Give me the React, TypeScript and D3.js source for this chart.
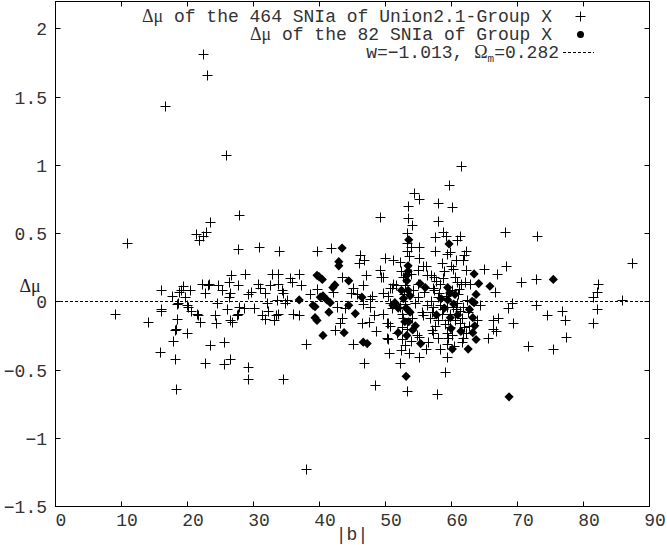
import React, { useEffect, useRef } from 'react';
import * as d3 from 'd3';

// |b| (deg) vs residual
const xTicks = [0, 10, 20, 30, 40, 50, 60, 70, 80, 90];
const yTicks = [-1.5, -1, -0.5, 0, 0.5, 1, 1.5, 2];

const unionPts: [number, number][] = [
  [22.4, 1.81], [23.0, 1.66], [16.7, 1.43], [25.9, 1.07], [10.9, 0.43], [9.1, -0.09], [14.1, -0.15], [38.0, -1.23],
  [61.5, 0.99], [59.7, 0.85], [54.4, 0.79], [55.2, 0.75], [58.0, 0.72], [60.2, 0.69], [58.0, 0.59], [53.5, 0.61],
  [54.1, 0.56], [49.2, 0.62], [68.2, 0.51], [73.0, 0.48], [27.9, 0.63], [23.5, 0.58], [22.9, 0.51], [21.3, 0.49],
  [21.8, 0.45], [22.4, 0.48], [27.7, 0.38], [30.9, 0.40], [33.9, 0.37], [39.7, 0.37], [41.8, 0.39],
  [46.2, 0.34], [46.1, 0.28], [46.8, 0.30], [50.0, 0.32], [51.2, 0.30], [52.3, 0.29],
  [49.2, 0.23], [49.4, 0.18], [47.1, 0.19], [43.5, 0.18], [35.6, 0.17], [35.9, 0.14], [37.3, 0.12], [32.9, 0.20],
  [33.8, 0.20], [28.8, 0.20], [26.7, 0.19], [22.3, 0.13], [23.3, 0.13], [24.7, 0.12], [26.4, 0.14], [27.7, 0.12],
  [30.8, 0.13], [31.1, 0.10], [32.6, 0.12], [33.8, 0.13], [34.4, 0.08], [34.5, 0.06],
  [16.1, 0.08], [17.7, 0.04], [18.8, 0.07], [19.1, 0.08], [20.5, 0.08], [19.7, 0.03], [22.7, 0.06], [23.2, 0.12],
  [26.4, 0.03], [26.5, 0.06], [29.2, 0.05], [29.7, 0.07], [31.8, 0.06], [32.1, -0.01], [33.6, 0.01], [35.1, 0.01],
  [34.8, -0.01], [24.5, -0.01], [20.0, -0.03], [20.2, -0.04], [16.1, -0.06], [18.6, -0.01], [20.6, -0.07],
  [26.1, -0.06], [27.9, -0.04], [28.6, -0.05], [27.7, -0.09], [27.6, -0.10], [21.7, -0.10], [22.0, -0.15],
  [24.2, -0.10], [24.4, -0.16], [26.5, -0.14], [26.8, -0.15], [18.5, -0.13], [18.3, -0.20], [18.2, -0.21],
  [20.0, -0.23], [17.9, -0.29], [23.5, -0.32], [25.6, -0.30], [31.4, -0.10], [31.8, -0.13], [32.3, -0.07],
  [33.2, -0.14], [33.5, -0.10], [33.8, -0.09], [36.1, -0.09], [37.0, -0.10], [38.0, -0.31],
  [39.7, 0.09], [42.4, -0.21], [42.7, -0.04], [42.1, 0.07], [43.5, -0.12], [43.2, -0.16], [45.2, -0.31],
  [44.8, 0.06], [45.8, 0.05], [47.7, 0.02], [48.0, 0.04], [46.7, 0.12], [46.7, -0.02], [47.7, -0.04],
  [46.5, -0.16], [47.6, -0.15], [48.3, -0.10], [49.7, -0.09], [50.3, -0.16], [50.8, -0.18], [50.5, 0.04],
  [51.0, 0.10], [51.7, 0.12], [50.3, -0.27], [50.5, -0.28], [51.8, -0.23],
  [22.7, -0.45], [25.6, -0.46], [26.5, -0.42], [29.2, -0.48], [29.2, -0.57], [34.5, -0.57],
  [46.8, -0.45], [50.6, -0.38], [52.4, -0.36], [48.5, -0.61], [55.2, -0.41], [56.2, -0.35], [53.3, -0.66],
  [57.9, -0.68], [59.1, -0.52], [59.4, -0.41], [15.9, -0.37], [18.2, -0.42], [18.3, -0.64], [21.5, -0.09],
  [18.5, -0.02], [16.1, -0.07],
  [58.8, 0.51], [59.2, 0.48], [57.6, 0.47], [61.4, 0.48], [60.9, 0.45], [53.3, 0.50], [53.3, 0.43], [53.9, 0.40],
  [55.2, 0.40], [53.3, 0.37], [55.2, 0.32], [57.6, 0.37], [62.3, 0.37], [62.0, 0.34], [61.8, 0.30], [59.4, 0.35],
  [55.8, 0.26], [56.2, 0.26], [60.0, 0.26], [60.3, 0.24], [65.0, 0.24], [68.3, 0.26], [67.0, 0.20], [62.3, 0.23],
  [87.4, 0.28], [55.0, 0.23], [56.9, 0.19], [57.4, 0.18], [49.7, 0.18], [55.0, 0.13], [57.3, 0.10], [57.4, 0.08],
  [61.5, 0.13], [62.9, 0.13], [66.7, 0.07], [70.6, 0.14], [72.9, 0.16], [82.3, 0.13], [82.1, 0.07], [81.5, 0.03],
  [85.9, 0.01], [69.2, -0.01], [72.9, -0.03], [68.6, -0.05], [67.1, -0.12], [66.4, -0.14], [69.4, -0.16],
  [74.5, -0.10], [76.8, -0.07], [77.3, -0.14], [82.1, -0.06], [81.5, -0.16], [77.4, -0.26], [66.4, -0.20],
  [65.6, -0.27], [71.7, -0.33], [75.5, -0.35],
  [55.0, 0.03], [54.5, -0.01], [56.4, -0.03], [57.3, -0.04], [57.1, -0.08], [58.0, 0.03], [58.3, -0.03],
  [58.8, -0.06], [59.4, -0.04], [59.8, -0.09], [60.3, -0.04], [60.9, -0.01], [61.4, -0.07], [61.7, -0.12],
  [61.8, -0.04], [62.4, 0.01], [62.6, -0.08], [60.6, -0.14], [61.4, -0.16], [59.5, -0.14], [59.8, -0.19],
  [59.4, -0.23], [60.2, -0.25], [61.7, -0.30], [61.8, -0.27], [59.4, -0.31], [58.0, -0.27], [57.3, -0.23],
  [57.1, -0.21], [58.0, -0.14], [56.8, -0.12], [55.8, -0.10], [55.6, -0.08], [55.2, -0.26], [54.8, -0.25],
  [56.4, 0.19], [58.3, 0.13], [58.8, 0.17], [60.6, 0.18], [60.9, 0.14], [62.1, 0.14], [64.4, -0.03],
  [63.9, -0.14], [66.8, -0.22], [51.2, 0.13], [50.8, 0.10], [49.7, 0.06], [50.8, -0.01], [51.1, -0.05],
  [50.5, -0.16], [52.6, -0.09], [52.3, -0.04], [54.1, -0.12],
  [52.8, 0.18], [53.0, 0.12], [52.9, 0.05], [53.1, -0.02], [52.7, -0.12], [53.4, -0.20], [52.5, -0.28],
  [53.0, -0.32], [53.6, -0.38], [52.2, -0.45], [54.0, 0.20], [54.3, 0.08], [53.7, 0.33], [53.5, 0.70],
  [58.6, 0.28], [59.0, 0.22], [60.1, 0.08], [61.1, 0.05], [61.9, -0.19], [62.2, -0.23], [59.1, -0.17],
  [58.6, -0.09], [57.6, -0.18], [56.5, -0.30], [57.0, 0.00], [55.9, 0.07], [59.9, 0.36], [60.7, 0.30],
  [59.2, 0.04], [60.8, -0.06], [58.2, 0.06], [61.2, 0.09], [59.6, -0.27], [60.4, -0.33], [58.4, -0.35],
  [62.7, -0.18], [57.8, 0.15], [52.4, 0.22], [52.6, -0.19], [53.9, -0.29], [44.0, -0.05], [45.1, 0.10],
  [48.7, -0.22], [38.6, 0.05], [36.9, 0.20], [30.2, -0.05], [25.3, 0.08], [19.4, 0.11],
];

const groupPts: [number, number][] = [
  [43.5, 0.39], [43.0, 0.29], [43.0, 0.26], [39.7, 0.19], [40.0, 0.18], [40.5, 0.16], [44.5, 0.15], [42.1, 0.10],
  [42.4, 0.12], [37.0, 0.01], [39.1, -0.03], [39.4, -0.04], [40.2, 0.03], [40.6, 0.04], [41.2, 0.01], [41.7, -0.01],
  [39.4, -0.12], [39.7, -0.14], [40.6, -0.25], [43.8, -0.23], [44.5, -0.03], [45.5, -0.09], [46.7, -0.30],
  [47.3, -0.31], [46.5, 0.03], [51.8, -0.03], [52.0, -0.05],
  [59.7, 0.42], [53.6, 0.45], [53.5, 0.26], [53.5, 0.22], [53.3, 0.19], [53.3, 0.15], [55.3, 0.13], [56.1, 0.10],
  [59.5, 0.10], [59.8, 0.06], [59.5, 0.01], [63.5, 0.20], [64.2, 0.13], [65.9, 0.11], [63.8, 0.05], [75.5, 0.16],
  [63.3, -0.12], [63.6, -0.18], [63.3, -0.23], [63.8, -0.28], [62.6, -0.35], [60.2, -0.35], [55.4, -0.31],
  [54.2, -0.21], [53.6, -0.15], [53.0, -0.15], [52.0, -0.23], [53.3, -0.25], [51.2, -0.03], [51.5, -0.01],
  [63.5, -0.01], [53.8, 0.04], [53.5, 0.08], [53.2, -0.55], [68.8, -0.70],
  [52.8, 0.02], [53.2, -0.05], [53.8, -0.08], [59.0, -0.05], [59.9, -0.12], [60.4, -0.02], [61.0, -0.10],
  [60.6, 0.05], [62.8, -0.06], [63.2, 0.00], [57.8, -0.10], [58.5, 0.02], [54.6, -0.18], [60.0, -0.20],
  [61.5, -0.22], [52.5, 0.08], [41.5, -0.08],
];

// best fit model (w=-1.013, Om=0.282): residual line at zero
const modelLine: [number, number][] = [[0, 0], [90, 0]];

const MONO = '"Liberation Mono", "DejaVu Sans Mono", monospace';
const SERIF = '"Liberation Serif", "DejaVu Serif", serif';

export default function App() {
  const ref = useRef<SVGSVGElement>(null);

  useEffect(() => {
    const W = 667, H = 545;
    const margin = { top: 1, right: 18, bottom: 39, left: 55 };
    const svg = d3.select(ref.current);
    svg.selectAll('*').remove();

    const x = d3.scaleLinear().domain([0, 90]).range([margin.left, W - margin.right]);
    const y = d3.scaleLinear().domain([-1.5, 2.2]).range([H - margin.bottom, margin.top]);
    const px = (v: number) => Math.round(x(v)) + 0.5;
    const py = (v: number) => Math.round(y(v)) + 0.5;

    const x0 = px(0), x1 = px(90), yb = py(-1.5), yt = py(2.2);

    // zero line
    svg.append('path')
      .attr('d', d3.line<[number, number]>().x(d => x(d[0])).y(d => py(d[1]))(modelLine))
      .attr('fill', 'none')
      .attr('stroke', '#000')
      .attr('stroke-width', 1)
      .attr('stroke-dasharray', '3,2');

    // crosses
    svg.append('g').selectAll('path')
      .data(unionPts)
      .join('path')
      .attr('d', d => {
        const cx = px(d[0]), cy = py(d[1]);
        return `M${cx - 5},${cy}h10M${cx},${cy - 5}v10`;
      })
      .attr('stroke', '#000')
      .attr('stroke-width', 1)
      .attr('fill', 'none');

    // diamonds
    svg.append('g').selectAll('path')
      .data(groupPts)
      .join('path')
      .attr('d', d => {
        const cx = x(d[0]), cy = y(d[1]);
        return `M${cx},${cy - 4.6}L${cx + 4.6},${cy}L${cx},${cy + 4.6}L${cx - 4.6},${cy}Z`;
      })
      .attr('fill', '#000');

    // frame
    svg.append('rect')
      .attr('x', x0).attr('y', yt)
      .attr('width', x1 - x0).attr('height', yb - yt)
      .attr('fill', 'none').attr('stroke', '#000').attr('stroke-width', 1);

    // ticks (inward, mirrored)
    const tk = svg.append('g').attr('stroke', '#000').attr('stroke-width', 1);
    xTicks.forEach(t => {
      tk.append('line').attr('x1', px(t)).attr('x2', px(t)).attr('y1', yb).attr('y2', yb - 5);
      tk.append('line').attr('x1', px(t)).attr('x2', px(t)).attr('y1', yt).attr('y2', yt + 5);
    });
    yTicks.forEach(t => {
      tk.append('line').attr('x1', x0).attr('x2', x0 + 5).attr('y1', py(t)).attr('y2', py(t));
      tk.append('line').attr('x1', x1).attr('x2', x1 - 5).attr('y1', py(t)).attr('y2', py(t));
    });

    // tick labels
    svg.append('g').selectAll('text')
      .data(xTicks)
      .join('text')
      .attr('x', d => x(d) + 6)
      .attr('y', 526)
      .attr('text-anchor', 'middle')
      .style('font-family', MONO)
      .style('font-size', '18px')
      .attr('fill', '#333')
      .text(d => d);

    svg.append('g').selectAll('text')
      .data(yTicks)
      .join('text')
      .attr('x', 47)
      .attr('y', d => y(d) + 7)
      .attr('text-anchor', 'end')
      .style('font-family', MONO)
      .style('font-size', '18px')
      .attr('fill', '#333')
      .text(d => d.toString().replace('-', '\u2212'));

    // axis titles
    svg.append('text')
      .attr('x', 352).attr('y', 540)
      .attr('text-anchor', 'middle')
      .style('font-family', MONO).style('font-size', '18px')
      .attr('fill', '#333')
      .text('|b|');

    svg.append('text')
      .attr('x', 30).attr('y', 292)
      .attr('text-anchor', 'middle')
      .style('font-family', SERIF).style('font-size', '18px')
      .attr('fill', '#222')
      .text('\u0394\u03bc');

    // legend
    const leg = svg.append('g').attr('fill', '#333').style('font-size', '18px').style('font-family', MONO);
    const l1 = leg.append('text').attr('x', 552).attr('y', 22).attr('text-anchor', 'end');
    l1.append('tspan').style('font-family', SERIF).text('\u0394\u03bc');
    l1.append('tspan').text(' of the 464 SNIa of Union2.1-Group X');
    const l2 = leg.append('text').attr('x', 552).attr('y', 40).attr('text-anchor', 'end');
    l2.append('tspan').style('font-family', SERIF).text('\u0394\u03bc');
    l2.append('tspan').text(' of the 82 SNIa of Group X');
    const l3 = leg.append('text').attr('x', 559).attr('y', 58).attr('text-anchor', 'end');
    l3.append('tspan').text('w=\u22121.013, ');
    l3.append('tspan').style('font-family', SERIF).text('\u03a9');
    l3.append('tspan').attr('dy', 4).style('font-size', '11px').text('m');
    l3.append('tspan').attr('dy', -4).text('=0.282');

    svg.append('path')
      .attr('d', `M575.5,16.5h10M580.5,11.5v10`)
      .attr('stroke', '#000').attr('fill', 'none');
    svg.append('circle').attr('cx', 580.5).attr('cy', 34.5).attr('r', 3.5).attr('fill', '#000');
    svg.append('line')
      .attr('x1', 563).attr('x2', 594).attr('y1', 52.5).attr('y2', 52.5)
      .attr('stroke', '#000').attr('stroke-dasharray', '3,2');
  }, []);

  return (
    <svg ref={ref} width={667} height={545}
      style={{ position: 'absolute', left: 0, top: 0, background: '#fff' }} />
  );
}
